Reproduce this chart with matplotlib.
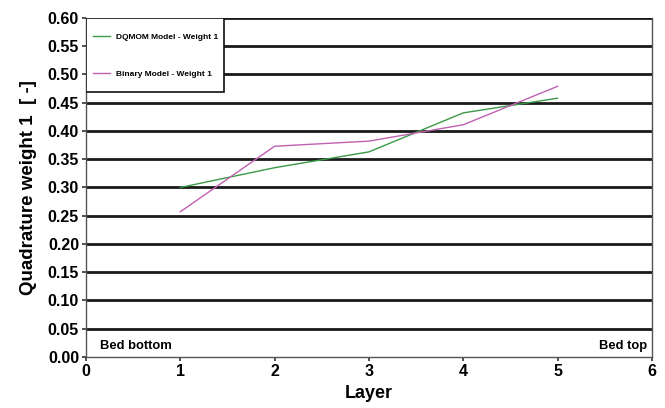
import matplotlib
matplotlib.use("Agg")
import matplotlib.pyplot as plt
from matplotlib.patches import Rectangle

plt.rcParams['font.family'] = ['Liberation Sans', 'DejaVu Sans']
plt.rcParams['font.weight'] = 'bold'

layers = [1, 2, 3, 4, 5]
dqmom_weight1 = [0.300, 0.335, 0.363, 0.432, 0.458]
binary_weight1 = [0.257, 0.373, 0.382, 0.411, 0.479]
y_ticks = [i * 0.05 for i in range(13)]
x_ticks = [0, 1, 2, 3, 4, 5, 6]

fig = plt.figure(figsize=(6.65, 4.08), dpi=100)
ax = fig.add_axes([0.1293, 0.125, 0.851, 0.831])

# thick black horizontal grid
for y in y_ticks[1:]:
    ax.axhline(y, color='#1a1a1a', lw=2.0, zorder=1)

ax.plot(layers, dqmom_weight1, color='#3a9a48', lw=1.0, label='DQMOM Model - Weight 1', zorder=3)
ax.plot(layers, binary_weight1, color='#c060b0', lw=1.0, label='Binary Model - Weight 1', zorder=3)

ax.set_xlim(0, 6)
ax.set_ylim(0, 0.6)
ax.set_xticks(x_ticks)
ax.set_yticks(y_ticks)
ax.set_yticklabels([f'{v:.2f}' for v in y_ticks])
ax.tick_params(axis='both', labelsize=11.5, length=3, width=1.2, direction='out',
               color='#333333', pad=2)
for lab in ax.get_xticklabels() + ax.get_yticklabels():
    lab.set_fontweight('bold')

for side in ['left', 'bottom', 'right']:
    ax.spines[side].set_linewidth(1.0)
    ax.spines[side].set_color('#555555')
ax.spines['top'].set_visible(False)

ax.set_xlabel('Layer', fontsize=13, fontweight='bold', labelpad=4)
ax.set_ylabel('Quadrature weight 1  [ -]', fontsize=13.5, fontweight='bold', labelpad=8)

ax.text(0.148, 0.0195, 'Bed bottom', fontsize=9.4, fontweight='bold', va='center', ha='left')
ax.text(5.95, 0.0195, 'Bed top', fontsize=9.4, fontweight='bold', va='center', ha='right')

# legend box
box = Rectangle((0.0, 0.782), 0.244, 0.218, transform=ax.transAxes, facecolor='white',
                edgecolor='#111111', lw=1.2, zorder=4)
ax.add_patch(box)
leg = ax.legend(loc='center left', bbox_to_anchor=(0.0124, 0.888), fontsize=6.0, frameon=False,
                labelspacing=3.5, handlelength=2.0, handletextpad=0.7, borderpad=0.0,
                borderaxespad=0.0)
leg.set_zorder(5)

fig.savefig('out.png', dpi=100)
